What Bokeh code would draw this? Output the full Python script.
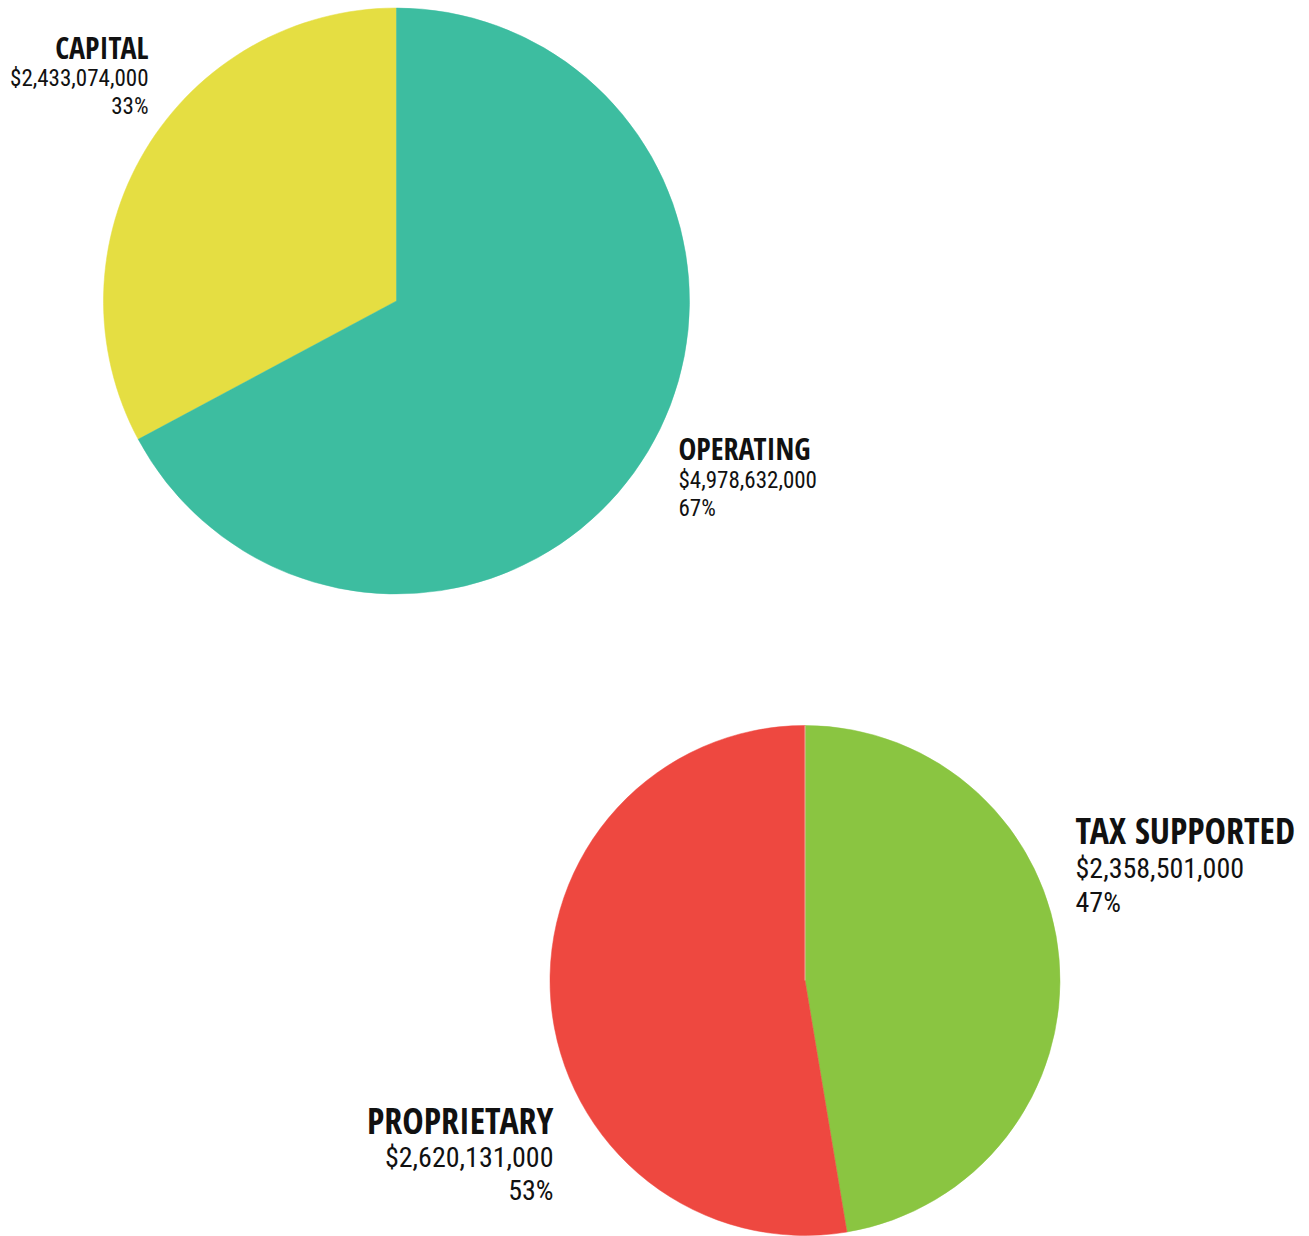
import math
from bokeh.plotting import figure
from bokeh.models import ColumnDataSource, Range1d
from bokeh.core.properties import value
from bokeh.embed import file_html
from bokeh.resources import INLINE

# ---- data ----
top_categories = ["CAPITAL", "OPERATING"]
top_values = [2433074000, 4978632000]
top_colors = ["#E5DE42", "#3DBDA0"]

bottom_categories = ["TAX SUPPORTED", "PROPRIETARY"]
bottom_values = [2358501000, 2620131000]
bottom_colors = ["#8AC541", "#EE4840"]

W, H = 1309, 1236
p = figure(width=W, height=H, output_backend="svg", toolbar_location=None,
           x_range=Range1d(0, W), y_range=Range1d(0, H),
           x_axis_location=None, y_axis_location=None, min_border=0)
p.grid.visible = False
p.outline_line_color = None
p.background_fill_color = "white"

TITLE_FONT = "Open Sans Condensed"
VALUE_FONT = "Roboto Condensed"

def py(v):
    return H - v

# ---- top pie: CAPITAL counter-clockwise from 12 o'clock, OPERATING the rest ----
tot = sum(top_values)
cap_sweep = top_values[0] / tot * 2 * math.pi
cx, cy, r = 396, py(300.5), 293
src_top = ColumnDataSource(dict(
    start=[math.pi / 2, math.pi / 2 + cap_sweep],
    end=[math.pi / 2 + cap_sweep, math.pi / 2 + 2 * math.pi],
    color=top_colors))
p.wedge(x=cx, y=cy, radius=r, start_angle="start", end_angle="end",
        fill_color="color", line_color="color", line_width=0.5, source=src_top)

# ---- bottom pie: TAX SUPPORTED clockwise from 12 o'clock, PROPRIETARY the rest ----
totb = sum(bottom_values)
tax_sweep = bottom_values[0] / totb * 2 * math.pi
bx, by, br = 804.5, py(980), 255
src_bot = ColumnDataSource(dict(
    start=[math.pi / 2 - tax_sweep, math.pi / 2],
    end=[math.pi / 2, math.pi / 2 - tax_sweep + 2 * math.pi],
    color=bottom_colors))
p.wedge(x=bx, y=by, radius=br, start_angle="start", end_angle="end",
        fill_color="color", line_color="color", line_width=0.5, source=src_bot)
p.segment(x0=bx, y0=by, x1=bx, y1=by + br, line_color="white", line_alpha=0.5, line_width=1)

def label(x, ys, name, val, total, align, size_t, size_v):
    pct = f"{round(val / total * 100)}%"
    p.text(x=[x], y=[py(ys[0])], text=[name], text_font=value(TITLE_FONT),
           text_font_style="bold", text_font_size=f"{size_t}px",
           text_align=align, text_baseline="alphabetic", text_color="#111111")
    p.text(x=[x, x], y=[py(ys[1]), py(ys[2])], text=[f"${val:,}", pct],
           text_font=value(VALUE_FONT), text_font_size=f"{size_v}px",
           text_align=align, text_baseline="alphabetic", text_color="#111111")

label(148, (47, 78, 106), top_categories[0], top_values[0], tot, "right", 30, 23)
label(678, (448, 480, 508), top_categories[1], top_values[1], tot, "left", 30, 23)
label(1075, (830, 868, 902), bottom_categories[0], bottom_values[0], totb, "left", 36, 28)
label(553, (1120, 1157, 1190), bottom_categories[1], bottom_values[1], totb, "right", 36, 28)

open("out.html", "w").write(file_html(p, INLINE))
